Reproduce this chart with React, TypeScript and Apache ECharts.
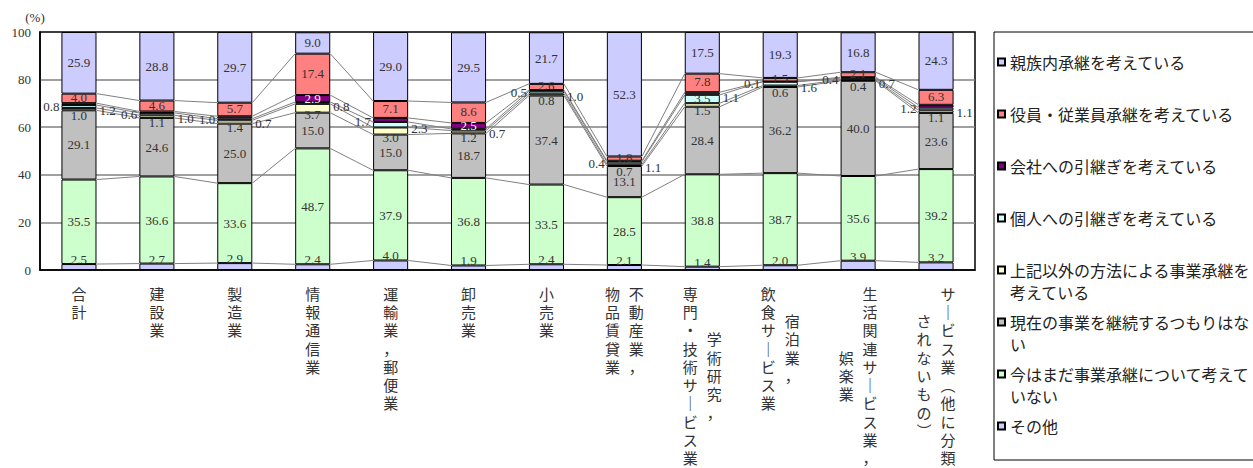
import React, { useEffect, useRef } from 'react';
import * as echarts from 'echarts';

const tickLabels = [
  '合計',
  '建設業',
  '製造業',
  '情報通信業',
  '運輸業，郵便業',
  '卸売業',
  '小売業',
  '不動産業，\n物品賃貸業',
  '学術研究，\n専門・技術サービス業',
  '宿泊業，\n飲食サービス業',
  '生活関連サービス業，\n娯楽業',
  'サービス業（他に分類\nされないもの）',
];

const seriesNames = [
  'その他',
  '今はまだ事業承継について考えていない',
  '現在の事業を継続するつもりはない',
  '上記以外の方法による事業承継を考えている',
  '個人への引継ぎを考えている',
  '会社への引継ぎを考えている',
  '役員・従業員承継を考えている',
  '親族内承継を考えている',
];

const other = [2.5, 2.7, 2.9, 2.4, 4.0, 1.9, 2.4, 2.1, 1.4, 2.0, 3.9, 3.2];
const notYet = [35.5, 36.6, 33.6, 48.7, 37.9, 36.8, 33.5, 28.5, 38.8, 38.7, 35.6, 39.2];
const noContinue = [29.1, 24.6, 25.0, 15.0, 15.0, 18.7, 37.4, 13.1, 28.4, 36.2, 40.0, 23.6];
const otherMethod = [1.0, 1.1, 1.4, 3.7, 3.0, 1.2, 0.8, 0.7, 1.5, 0.6, 0.4, 1.1];
const toIndividual = [1.2, 1.0, 0.7, 0.8, 2.3, 0.7, 1.0, 1.1, 3.5, 1.6, 0.7, 1.1];
const toCompany = [0.8, 0.6, 1.0, 2.9, 1.7, 2.5, 0.5, 0.4, 1.1, 0.1, 0.4, 1.2];
const toEmployee = [4.0, 4.6, 5.7, 17.4, 7.1, 8.6, 2.6, 1.8, 7.8, 1.5, 2.1, 6.3];
const toFamily = [25.9, 28.8, 29.7, 9.0, 29.0, 29.5, 21.7, 52.3, 17.5, 19.3, 16.8, 24.3];

const seriesValues = [other, notYet, noContinue, otherMethod, toIndividual, toCompany, toEmployee, toFamily];
const colors = ['#ccccff', '#ccffcc', '#c0c0c0', '#ffffcc', '#ccffff', '#800080', '#ff8080', '#ccccff'];
// drawing order (labels of later-drawn series sit on top of neighbouring bars)
const seriesZ = [4, 2, 2, 4, 4, 4, 4, 2];

// label placement (style only)
const cyanSide = ['right', 'right', 'right', 'right', 'right', 'right', 'right', 'right', 'inside', 'right', 'right', 'right'];
const purpleSide = ['left', 'left', 'left', 'inside', 'left', 'inside', 'left', 'left', 'right', 'left', 'left', 'left'];

const NUM_FONT = '"Liberation Serif", "DejaVu Serif", "Noto Sans CJK JP", serif';
const JP_FONT = '"Noto Sans CJK JP", "Noto Sans", sans-serif';
const TXT = '#333333';
const ROW = 18.3;

const vChar = (c: string) => (c === 'ー' ? '｜' : c === '（' ? '︵' : c === '）' ? '︶' : c);

function columnText(label: string, colIdx: number, style: string) {
  const cols = label.split('\n');
  if (colIdx >= cols.length) return '';
  const maxLen = Math.max(...cols.map((c) => c.length));
  const col = cols[colIdx];
  const halfRows = Math.round(maxLen - col.length);
  const lines: string[] = [];
  for (let k = 0; k < halfRows; k++) lines.push('{h| }');
  for (const ch of Array.from(col)) lines.push('{' + style + '|' + vChar(ch) + '}');
  return lines.join('\n');
}

const richBase = { fontSize: 15, lineHeight: ROW, height: ROW, width: 24, align: 'center', fontFamily: JP_FONT, color: TXT };
const rich = {
  c: { ...richBase },
  r: { ...richBase, padding: [0, 0, 0, 24] },
  l: { ...richBase, padding: [0, 24, 0, 0] },
  h: { fontSize: 1, lineHeight: ROW / 2, height: ROW / 2 },
};

const sideLabel = (side: string, white = false) => {
  if (side === 'left') return { position: 'left', distance: 2, offset: [0, 2], color: TXT };
  if (side === 'right') return { position: 'right', distance: 3, offset: [0, 4], color: TXT };
  return { position: 'inside', color: white ? '#ffffff' : TXT };
};

export default function App() {
  const ref = useRef<HTMLDivElement>(null);

  useEffect(() => {
    if (!ref.current) return;
    const chart = echarts.init(ref.current, null, { renderer: 'svg' });
    const n = tickLabels.length;

    const labelBase = {
      show: true,
      fontSize: 13,
      fontFamily: NUM_FONT,
      color: TXT,
      formatter: (p: any) => Number(p.value).toFixed(1),
    };

    const barSeries = seriesValues.map((vals, si) => {
      let label: any = { ...labelBase, position: 'inside' };
      let data: any[] = vals.slice();
      if (si === 0) label = { ...labelBase, position: 'top', distance: -2 };
      if (si === 3) label = { ...labelBase, position: 'inside', offset: [0, 6] };
      if (si === 6) label = { ...labelBase, position: 'inside', offset: [0, -1] };
      if (si === 4) data = vals.map((v, i) => ({ value: v, label: sideLabel(cyanSide[i]) }));
      if (si === 5) data = vals.map((v, i) => ({ value: v, label: sideLabel(purpleSide[i], true) }));
      return {
        name: seriesNames[si],
        type: 'bar',
        stack: 'total',
        barWidth: '45%',
        data,
        itemStyle: { color: colors[si], borderColor: '#000000', borderWidth: 1 },
        label,
        z: seriesZ[si],
      };
    });

    const seriesLines = {
      type: 'custom',
      name: 'series-lines',
      silent: true,
      z: 1,
      data: tickLabels.map((_, i) => [i, 0]),
      encode: { x: 0, y: 1 },
      renderItem: (params: any, api: any) => {
        const i = api.value(0);
        if (i >= n - 1) return { type: 'group', children: [] };
        const hw = (api.size([1, 0])[0] * 0.45) / 2;
        const children: any[] = [];
        let c1 = 0;
        let c2 = 0;
        for (let s = 0; s < seriesValues.length - 1; s++) {
          c1 += seriesValues[s][i];
          c2 += seriesValues[s][i + 1];
          const p1 = api.coord([i, c1]);
          const p2 = api.coord([i + 1, c2]);
          children.push({
            type: 'line',
            shape: { x1: p1[0] + hw, y1: p1[1], x2: p2[0] - hw, y2: p2[1] },
            style: { stroke: '#808080', lineWidth: 1 },
          });
        }
        return { type: 'group', children };
      },
    };

    const legendCenters = seriesNames.map((_, k) => 62 + 52 * k);
    const legendOrder = seriesNames.slice().reverse();
    const legends = legendOrder.map((name, k) => {
      const long = name.length > 15;
      const textH = long ? 66 : 22;
      return {
        data: [name],
        left: 997,
        top: legendCenters[k] - textH / 2,
        padding: 0,
        icon: 'rect',
        itemWidth: 7,
        itemHeight: 7,
        itemGap: 4,
        selectedMode: false,
        formatter: (nm: string) => (nm.length > 15 ? '\n' + nm.slice(0, 15) + '\n' + nm.slice(15) : nm),
        textStyle: { fontSize: 16, lineHeight: 22, fontFamily: JP_FONT, color: '#222222', padding: [0, 0, 0, 0] },
      };
    });

    const option: any = {
      animation: false,
      backgroundColor: '#ffffff',
      grid: { left: 40, right: 278, top: 32, bottom: 198, show: true, borderColor: '#000000', borderWidth: 1.5, backgroundColor: 'transparent' },
      legend: legends,
      graphic: [
        {
          type: 'rect',
          shape: { x: 994, y: 32, width: 280, height: 428 },
          style: { fill: 'none', stroke: '#000000', lineWidth: 1 },
          silent: true,
        },
      ],
      xAxis: [
        {
          type: 'category',
          data: tickLabels,
          position: 'bottom',
          axisLine: { show: true, lineStyle: { color: '#000000', width: 1.5 } },
          axisTick: { show: false },
          axisLabel: {
            interval: 0,
            margin: 14,
            verticalAlign: 'top',
            formatter: (v: string) => {
              const two = v.split('\n').length > 1;
              return columnText(v, 0, two ? 'r' : 'c');
            },
            rich,
          },
        },
        {
          type: 'category',
          data: tickLabels,
          position: 'bottom',
          axisLine: { show: false },
          axisTick: { show: false },
          splitLine: { show: false },
          axisLabel: {
            interval: 0,
            margin: 14,
            verticalAlign: 'top',
            formatter: (v: string) => columnText(v, 1, 'l'),
            rich,
          },
        },
      ],
      yAxis: {
        type: 'value',
        min: 0,
        max: 100,
        interval: 20,
        name: '(%)',
        nameLocation: 'end',
        nameGap: 8,
        nameTextStyle: { fontSize: 13, fontFamily: NUM_FONT, color: TXT, padding: [0, 10, 0, 0] },
        axisLine: { show: true, lineStyle: { color: '#000000', width: 1.5 } },
        axisTick: { show: false },
        axisLabel: { fontSize: 13, fontFamily: NUM_FONT, color: TXT, margin: 9 },
        splitLine: { show: true, showMinLine: false, showMaxLine: false, lineStyle: { color: '#808080', width: 1.5 } },
      },
      series: [seriesLines, ...barSeries],
    };

    chart.setOption(option);
    return () => chart.dispose();
  }, []);

  return <div ref={ref} style={{ position: 'fixed', left: 0, top: 0, width: 1253, height: 468 }} />;
}
